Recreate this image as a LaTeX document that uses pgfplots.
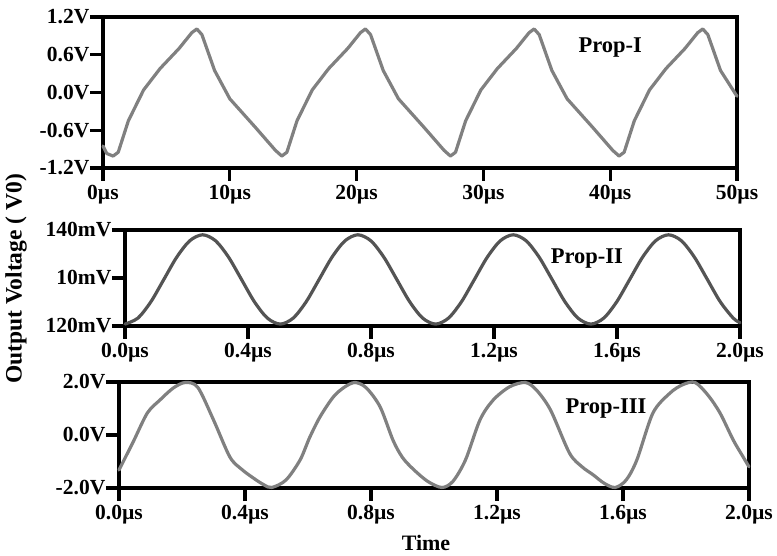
\documentclass[border=0pt]{standalone}
\usepackage{pgfplots}
\pgfplotsset{compat=1.18}
\usepackage{fontspec}
\setmainfont{Liberation Serif}
\newcommand\tl{\fontsize{21.5}{24}\selectfont\bfseries}
\begin{document}
\begin{tikzpicture}[x=1pt,y=1pt]
\useasboundingbox (0,0) rectangle (777,555);
\pgfplotsset{
 panel/.style={
  scale only axis, anchor=south west, clip=false,
  axis line style={line width=3.2pt, black},
  every tick/.style={line width=3.2pt, black},
  major tick length=13pt,
  tick align=outside,
  xtick pos=bottom, ytick pos=left,
  every tick label/.append style={font=\tl},
  yticklabel style={font=\tl, inner sep=0.5pt},
  xticklabel style={font=\tl, inner sep=4.5pt},
 },
 curve/.style={line width=3.2pt, line join=round, line cap=round},
}
% Panel 1
\begin{axis}[panel, at={(103pt,387pt)}, width=634pt, height=151pt,
  xmin=0, xmax=50, ymin=-1.2, ymax=1.2,
  xtick={0,10,20,30,40,50}, xticklabels={{\tl 0µs},{\tl 10µs},{\tl 20µs},{\tl 30µs},{\tl 40µs},{\tl 50µs}},
  ytick={-1.2,-0.6,0,0.6,1.2}, yticklabels={{\tl -1.2V},{\tl -0.6V},{\tl 0.0V},{\tl 0.6V},{\tl 1.2V}}]
\addplot[curve, color=black!50] coordinates {
(0,-0.85) (0.3,-0.97) (0.8,-1.01) (1.2,-0.95) (2.0,-0.45) (3.2,0.04) (4.5,0.38) (6.0,0.70) (7.0,0.95) (7.4,1.01) (7.8,0.92) (8.8,0.35) (10.0,-0.10) (12.0,-0.55) (13.6,-0.92) (14.1,-1.01)
(14.5,-0.95) (15.3,-0.45) (16.5,0.04) (17.8,0.38) (19.3,0.70) (20.3,0.95) (20.7,1.01) (21.1,0.92) (22.1,0.35) (23.3,-0.10) (25.3,-0.55) (26.9,-0.92) (27.4,-1.01)
(27.8,-0.95) (28.6,-0.45) (29.8,0.04) (31.1,0.38) (32.6,0.70) (33.6,0.95) (34.0,1.01) (34.4,0.92) (35.4,0.35) (36.6,-0.10) (38.6,-0.55) (40.2,-0.92) (40.7,-1.01)
(41.1,-0.95) (41.9,-0.45) (43.1,0.04) (44.4,0.38) (45.9,0.70) (46.9,0.95) (47.3,1.01) (47.7,0.92) (48.7,0.35) (50.0,-0.06)
};
\node[anchor=base, font=\fontsize{22.5}{26}\selectfont\bfseries] at (axis cs:40.0,0.63) {Prop-I};
\end{axis}
% Panel 2
\begin{axis}[panel, at={(125pt,229pt)}, width=615pt, height=96pt,
  xmin=0, xmax=2, ymin=120, ymax=140,
  xtick={0,0.4,0.8,1.2,1.6,2.0}, xticklabels={{\tl 0.0µs},{\tl 0.4µs},{\tl 0.8µs},{\tl 1.2µs},{\tl 1.6µs},{\tl 2.0µs}},
  ytick={120,130,140}, yticklabels={{\tl 120mV},{\tl 10mV},{\tl 140mV}}]
\addplot[curve, color=black!67, smooth] coordinates {
(0,120.40) (0.0421,121.65) (0.0842,125.05) (0.1263,129.70) (0.1683,134.35) (0.2104,137.75) (0.2525,139.00) (0.2946,137.75) (0.3367,134.35) (0.3788,129.70) (0.4208,125.05) (0.4629,121.65)
(0.5050,120.40) (0.5471,121.65) (0.5892,125.05) (0.6313,129.70) (0.6733,134.35) (0.7154,137.75) (0.7575,139.00) (0.7996,137.75) (0.8417,134.35) (0.8838,129.70) (0.9258,125.05) (0.9679,121.65)
(1.0100,120.40) (1.0521,121.65) (1.0942,125.05) (1.1363,129.70) (1.1783,134.35) (1.2204,137.75) (1.2625,139.00) (1.3046,137.75) (1.3467,134.35) (1.3888,129.70) (1.4308,125.05) (1.4729,121.65)
(1.5150,120.40) (1.5571,121.65) (1.5992,125.05) (1.6413,129.70) (1.6833,134.35) (1.7254,137.75) (1.7675,139.00) (1.8096,137.75) (1.8517,134.35) (1.8938,129.70) (1.9358,125.05) (1.9779,121.65) (2.0,120.69)
};
\node[anchor=base, font=\fontsize{22.5}{26}\selectfont\bfseries] at (axis cs:1.502,133.1) {Prop-II};
\end{axis}
% Panel 3
\begin{axis}[panel, at={(119pt,67pt)}, width=630pt, height=106pt,
  xmin=0, xmax=2, ymin=-2, ymax=2,
  xtick={0,0.4,0.8,1.2,1.6,2.0}, xticklabels={{\tl 0.0µs},{\tl 0.4µs},{\tl 0.8µs},{\tl 1.2µs},{\tl 1.6µs},{\tl 2.0µs}},
  ytick={-2,0,2}, yticklabels={{\tl -2.0V},{\tl 0.0V},{\tl 2.0V}}]
\addplot[curve, color=black!50, smooth] coordinates {
(0.000,-1.32) (0.045,-0.26) (0.090,0.83) (0.130,1.32) (0.172,1.77) (0.210,1.98) (0.250,1.80) (0.300,0.57) (0.352,-0.83) (0.390,-1.30) (0.426,-1.62) (0.460,-1.88) (0.485,-1.98)
(0.530,-1.70) (0.575,-0.94) (0.605,-0.10) (0.638,0.68) (0.680,1.43) (0.715,1.80) (0.749,1.98) (0.785,1.78) (0.829,1.06) (0.870,-0.20) (0.900,-0.85) (0.935,-1.30) (0.980,-1.75) (1.025,-1.98)
(1.060,-1.75) (1.100,-0.94) (1.146,0.57) (1.188,1.32) (1.240,1.82) (1.290,1.98) (1.325,1.70) (1.370,0.94) (1.430,-0.68) (1.470,-1.20) (1.505,-1.50) (1.540,-1.82) (1.575,-1.98)
(1.610,-1.70) (1.644,-0.94) (1.695,0.83) (1.749,1.58) (1.790,1.90) (1.829,1.98) (1.870,1.50) (1.908,0.83) (1.950,-0.19) (1.980,-0.80) (2.000,-1.20)
};
\node[anchor=base, font=\fontsize{22.5}{26}\selectfont\bfseries] at (axis cs:1.546,0.83) {Prop-III};
\end{axis}
\node[rotate=90, font=\fontsize{23.5}{26}\selectfont\bfseries] at (16pt,276pt) {Output Voltage ( V0)};
\node[anchor=base, font=\fontsize{22}{26}\selectfont\bfseries] at (426pt,5pt) {Time};
\end{tikzpicture}
\end{document}
